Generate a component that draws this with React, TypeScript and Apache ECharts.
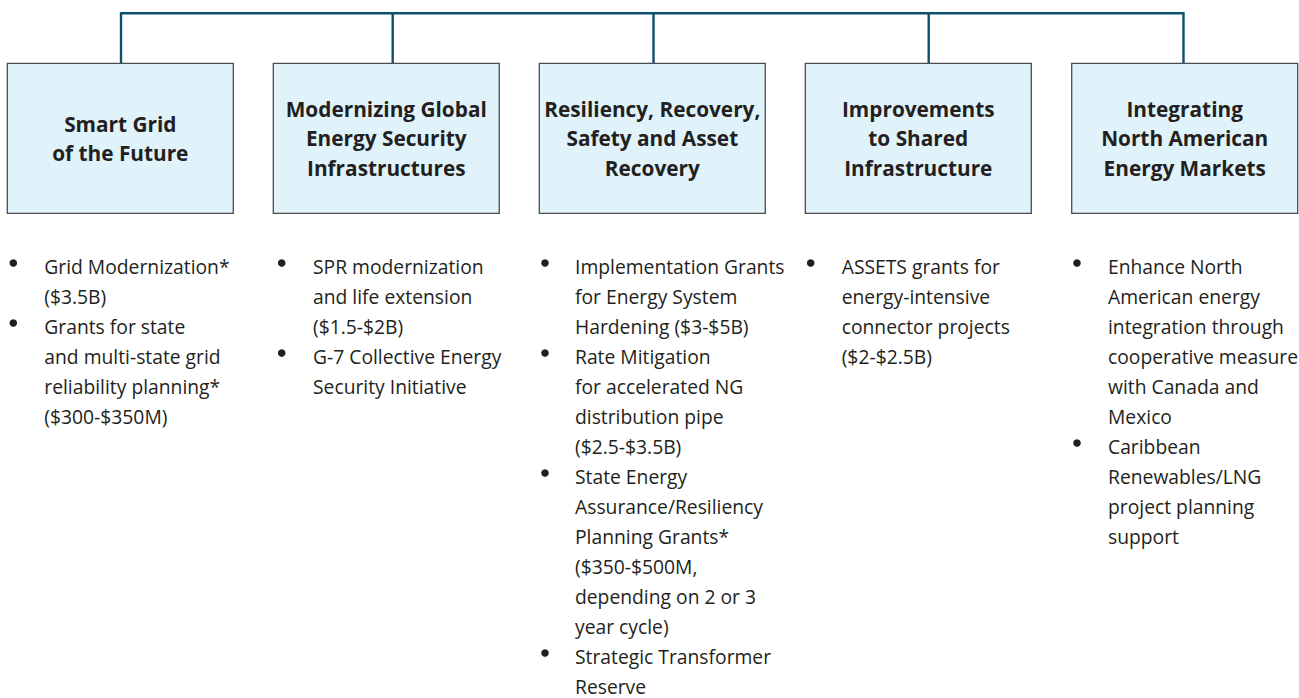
import React, { useEffect, useRef } from "react";
import * as echarts from "echarts";

// ---- Data ----
const categories: string[] = [
  "Smart Grid\nof the Future",
  "Modernizing Global\nEnergy Security\nInfrastructures",
  "Resiliency, Recovery,\nSafety and Asset\nRecovery",
  "Improvements\nto Shared\nInfrastructure",
  "Integrating\nNorth American\nEnergy Markets",
];

const smartGridItems: string[][] = [
  ["Grid Modernization*", "($3.5B)"],
  ["Grants for state", "and multi-state grid", "reliability planning*", "($300-$350M)"],
];
const globalSecurityItems: string[][] = [
  ["SPR modernization", "and life extension", "($1.5-$2B)"],
  ["G-7 Collective Energy", "Security Initiative"],
];
const resiliencyItems: string[][] = [
  ["Implementation Grants", "for Energy System", "Hardening ($3-$5B)"],
  ["Rate Mitigation", "for accelerated NG", "distribution pipe", "($2.5-$3.5B)"],
  ["State Energy", "Assurance/Resiliency", "Planning Grants*", "($350-$500M,", "depending on 2 or 3", "year cycle)"],
  ["Strategic Transformer", "Reserve"],
];
const sharedInfraItems: string[][] = [
  ["ASSETS grants for", "energy-intensive", "connector projects", "($2-$2.5B)"],
];
const northAmericaItems: string[][] = [
  ["Enhance North", "American energy", "integration through", "cooperative measure", "with Canada and", "Mexico"],
  ["Caribbean", "Renewables/LNG", "project planning", "support"],
];

const columnItems = [smartGridItems, globalSecurityItems, resiliencyItems, sharedInfraItems, northAmericaItems];

// ---- Layout / style ----
const BOX_LEFT = [7.3, 273.3, 539.3, 805.3, 1071.7];
const DROP_X = [121, 392.7, 653.5, 928.7, 1183.5];
const BULLET_X = [13.3, 281.7, 545, 810.7, 1077];
const TEXT_X = [44.3, 313, 575, 841.7, 1108];
const BOX_TOP = 63.3;
const BOX_W = 226;
const BOX_H = 150;
const LINE_Y = 13.3;
const LINE_COLOR = "#0d5070";
const TEXT_COLOR = "#231f20";
const FIRST_LINE_Y = 266;
const LINE_H = 30;
const BODY_FONT = '19.3px "Open Sans", sans-serif';
const TITLE_FONT = 'bold 20.8px "Open Sans", sans-serif';

function buildGraphics() {
  const els: any[] = [];
  // connector lines
  els.push({
    type: "line",
    shape: { x1: DROP_X[0], y1: LINE_Y, x2: DROP_X[DROP_X.length - 1], y2: LINE_Y },
    style: { stroke: LINE_COLOR, lineWidth: 2.4 },
  });
  DROP_X.forEach((x) => {
    els.push({
      type: "line",
      shape: { x1: x, y1: LINE_Y - 1.2, x2: x, y2: BOX_TOP },
      style: { stroke: LINE_COLOR, lineWidth: 2.4 },
    });
  });
  // boxes
  categories.forEach((title, i) => {
    els.push({
      type: "rect",
      shape: { x: BOX_LEFT[i], y: BOX_TOP, width: BOX_W, height: BOX_H },
      style: { fill: "#e0f2fa", stroke: "#4d4d4d", lineWidth: 1.3 },
    });
    els.push({
      type: "text",
      style: {
        text: title,
        x: BOX_LEFT[i] + BOX_W / 2,
        y: BOX_TOP + BOX_H / 2,
        align: "center",
        verticalAlign: "middle",
        font: TITLE_FONT,
        lineHeight: 29.5,
        fill: TEXT_COLOR,
      },
    });
  });
  // bullets
  columnItems.forEach((items, c) => {
    let line = 0;
    items.forEach((lines) => {
      const yc = FIRST_LINE_Y + line * LINE_H;
      els.push({
        type: "circle",
        shape: { cx: BULLET_X[c], cy: yc - 3, r: 3.8 },
        style: { fill: TEXT_COLOR },
      });
      els.push({
        type: "text",
        style: {
          text: lines.join("\n"),
          x: TEXT_X[c],
          y: yc - LINE_H / 2,
          align: "left",
          verticalAlign: "top",
          font: BODY_FONT,
          lineHeight: LINE_H,
          fill: TEXT_COLOR,
        },
      });
      line += lines.length;
    });
  });
  return els;
}

export default function App() {
  const ref = useRef<HTMLDivElement>(null);
  useEffect(() => {
    if (!ref.current) return;
    const chart = echarts.init(ref.current, null, { renderer: "svg" });
    chart.setOption({
      animation: false,
      backgroundColor: "#ffffff",
      graphic: { elements: buildGraphics() },
    });
    return () => chart.dispose();
  }, []);
  return (
    <div
      ref={ref}
      style={{ position: "fixed", left: 0, top: 0, width: 1299, height: 698, background: "#fff" }}
    />
  );
}
